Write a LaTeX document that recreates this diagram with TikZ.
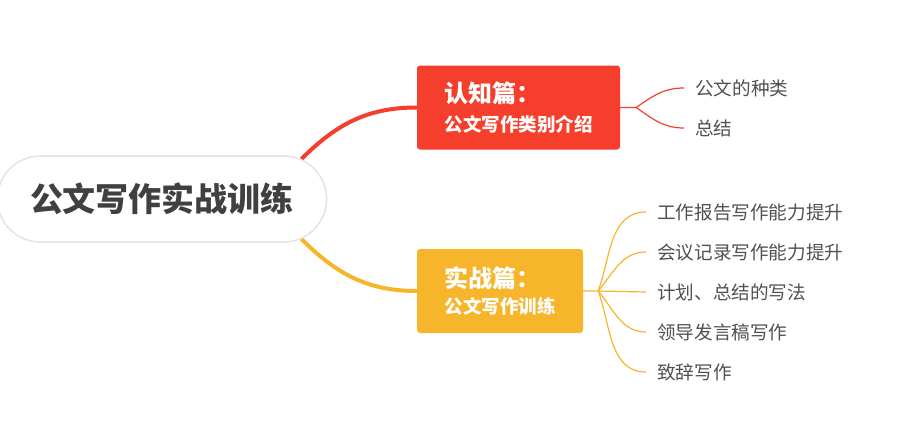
\documentclass[tikz,border=0pt]{standalone}
\usepackage{fontspec}
\newfontfamily\cjk{Noto Sans CJK SC}
\usetikzlibrary{calc, positioning, shapes.misc, backgrounds}
\definecolor{rootgray}{RGB}{64,64,64}
\definecolor{leafgray}{RGB}{80,80,80}
\definecolor{pillborder}{RGB}{228,228,228}
\definecolor{brightred}{RGB}{245,62,44}
\definecolor{warmyellow}{RGB}{247,181,43}

\begin{document}
\begin{tikzpicture}[x=1pt, y=1pt,
        root/.style={rounded rectangle, draw=pillborder, line width=1.5pt, fill=white, minimum width=336pt, minimum height=86pt, text=rootgray, font=\cjk\bfseries\fontsize{33}{36}\selectfont},
        topic/.style={rounded corners=3pt, minimum height=84pt, align=left, text=white, inner sep=0pt, font=\cjk\bfseries},
        leaf/.style={anchor=west, inner xsep=11pt, inner ysep=2pt, text=leafgray, font=\cjk\fontsize{18.6}{22}\selectfont},
        mainline/.style={line width=4pt},
        twig/.style={line width=1.2pt}]
        \useasboundingbox (0,0) rectangle (908,-437);

        % Root
        \node[root] (root) at (162,-199) {公文写作实战训练};

        % Topics
        \node[topic, fill=brightred, minimum width=203pt] (cognition) at (518.5,-107.5) {{\fontsize{24}{28}\selectfont 认知篇：}\\[9pt]{\fontsize{18.5}{22}\selectfont 公文写作类别介绍}};
        \node[topic, fill=warmyellow, minimum width=166pt] (practice) at (500,-291) {{\fontsize{24}{28}\selectfont 实战篇：}\\[6pt]{\fontsize{18.5}{22}\selectfont 公文写作训练}};

        % Leaves
        \node[leaf] (types) at (684,-88) {公文的种类};
        \node[leaf] (summary) at (684,-128) {总结};

        \node[leaf] (report) at (646,-212) {工作报告写作能力提升};
        \node[leaf] (minutes) at (646,-252) {会议记录写作能力提升};
        \node[leaf] (plans) at (646,-292) {计划、总结的写法};
        \node[leaf] (speech) at (646,-332) {领导发言稿写作};
        \node[leaf] (address) at (646,-372) {致辞写作};

        \coordinate (cfork) at ($(cognition.east)+(16,0)$);
        \coordinate (pfork) at ($(practice.east)+(15,0)$);

        % Branches
        \begin{scope}[on background layer]
        \draw[mainline, brightred] (root.16) to[out=45, in=180] (cognition.west);
        \draw[mainline, warmyellow] (root.-16) to[out=-45, in=180] (practice.west);
        \end{scope}

        \draw[twig, brightred] (cognition.east) -- (cfork) to[out=35, in=180] (types.west);
        \draw[twig, brightred] (cfork) to[out=-35, in=180] (summary.west);

        \draw[twig, warmyellow] (practice.east) -- (pfork) to[out=70, in=180] (report.west);
        \draw[twig, warmyellow] (pfork) to[out=50, in=180] (minutes.west);
        \draw[twig, warmyellow] (pfork) -- (plans.west);
        \draw[twig, warmyellow] (pfork) to[out=-50, in=180] (speech.west);
        \draw[twig, warmyellow] (pfork) to[out=-70, in=180] (address.west);
    \end{tikzpicture}
\end{document}
